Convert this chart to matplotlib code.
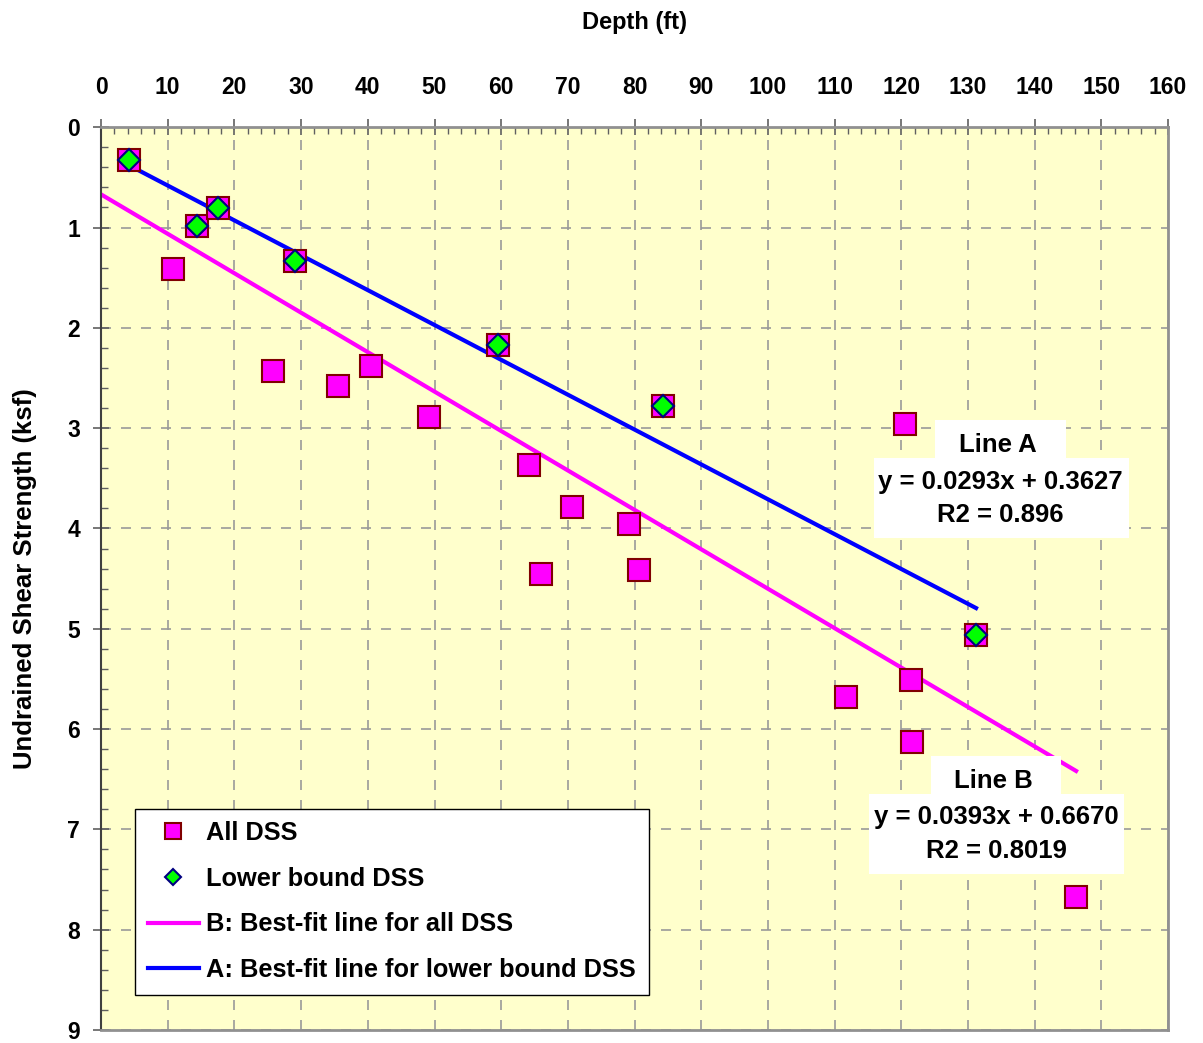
import numpy as np
import matplotlib.pyplot as plt
from matplotlib.patches import Rectangle
from matplotlib.ticker import MultipleLocator

plt.rcParams['font.family'] = ['Liberation Sans', 'DejaVu Sans']
plt.rcParams['font.weight'] = 'bold'

# all DSS tests: depth (ft) and undrained shear strength (ksf)
depth_all = [4.2, 14.4, 17.5, 10.8, 29.1, 25.8, 35.5, 40.5, 49.2, 59.5, 64.2,
             66.0, 70.6, 79.2, 80.7, 84.3, 120.5, 111.7, 121.4, 121.6, 131.2, 146.2]
su_all = [0.33, 0.98, 0.81, 1.41, 1.33, 2.43, 2.58, 2.38, 2.89, 2.17, 3.37,
          4.45, 3.79, 3.96, 4.41, 2.78, 2.96, 5.68, 5.51, 6.13, 5.06, 7.67]

# lower bound subset
depth_lb = [4.2, 14.4, 17.5, 29.1, 59.5, 84.3, 131.2]
su_lb = [0.33, 0.98, 0.81, 1.33, 2.17, 2.78, 5.06]

label_a = ["Line A", "y = 0.0293x + 0.3627", "R2 = 0.896"]
label_b = ["Line B", "y = 0.0393x + 0.6670", "R2 = 0.8019"]

fig = plt.figure(figsize=(12.03, 10.43), dpi=100)
ax = fig.add_axes([0.084, 0.0125, 0.887, 0.8655])
ax.set_facecolor('#FFFFCC')

# best-fit lines
slope_a, icpt_a = np.polyfit(depth_lb, su_lb, 1)
slope_b, icpt_b = np.polyfit(depth_all, su_all, 1)
xa = np.array([min(depth_lb), max(depth_lb)])
xb = np.array([0, max(depth_all)])

ax.plot(depth_all, su_all, 's', ms=16, mfc='#FF00FF', mec='#800000', mew=1.5,
        ls='none', label='All DSS', zorder=3)
ax.plot(depth_lb, su_lb, 'D', ms=11, mfc='#00FF00', mec='#000080', mew=1.5,
        ls='none', label='Lower bound DSS', zorder=4)
ax.plot(xb, slope_b * xb + icpt_b, color='#FF00FF', lw=3,
        label='B: Best-fit line for all DSS', zorder=2)
ax.plot(xa, slope_a * xa + icpt_a, color='#0000FF', lw=3,
        label='A: Best-fit line for lower bound DSS', zorder=2)

ax.set_xlim(0, 160)
ax.set_ylim(9, 0)
ax.xaxis.tick_top()
ax.xaxis.set_label_position('top')
ax.xaxis.set_major_locator(MultipleLocator(10))
ax.xaxis.set_minor_locator(MultipleLocator(2))
ax.yaxis.set_major_locator(MultipleLocator(1))
ax.yaxis.set_minor_locator(MultipleLocator(0.2))
ax.tick_params(which='major', direction='inout', length=12, width=1.2,
               color='#606060', labelsize=16.5)
ax.tick_params(axis='x', which='major', pad=14)
ax.tick_params(axis='y', which='major', pad=9)
ax.tick_params(which='minor', direction='in', length=5, width=1, color='#606060')
ax.grid(which='major', ls=(0, (6, 6)), color='#999999', lw=1.2)

for side in ['top', 'right', 'bottom']:
    ax.spines[side].set_color('#909090')
    ax.spines[side].set_linewidth(2)
ax.spines['left'].set_color('#404040')
ax.spines['left'].set_linewidth(1.5)

ax.set_xlabel('Depth (ft)', fontsize=17, fontweight='bold', labelpad=34)
ax.set_ylabel('Undrained Shear Strength (ksf)', fontsize=18.5, fontweight='bold',
              labelpad=22)


def fit_label(cx, top, lines):
    # white title box sitting on a wider box holding the equation and R2
    ax.add_patch(Rectangle((cx - 0.061, top - 0.042), 0.122, 0.042,
                           transform=ax.transAxes, fc='white', ec='none', zorder=5))
    ax.add_patch(Rectangle((cx - 0.119, top - 0.131), 0.239, 0.089,
                           transform=ax.transAxes, fc='white', ec='none', zorder=5))
    ax.text(cx - 0.003, top - 0.028, lines[0], transform=ax.transAxes,
            fontsize=18.5, fontweight='bold', ha='center', va='center', zorder=6)
    ax.text(cx, top - 0.068, lines[1], transform=ax.transAxes,
            fontsize=18.5, fontweight='bold', ha='center', va='center', zorder=6)
    ax.text(cx, top - 0.105, lines[2], transform=ax.transAxes,
            fontsize=18.5, fontweight='bold', ha='center', va='center', zorder=6)


fit_label(0.843, 0.6755, label_a)
fit_label(0.839, 0.3034, label_b)

leg = ax.legend(loc='lower left', bbox_to_anchor=(0.032, 0.039), fontsize=18.3,
                frameon=True, fancybox=False, edgecolor='black', framealpha=1,
                handlelength=2.0, labelspacing=0.85, borderpad=0.5,
                handletextpad=0.3, borderaxespad=0, markerscale=0.7)
leg.get_frame().set_linewidth(1)
for t in leg.get_texts():
    t.set_fontweight('bold')

fig.savefig('out.png', dpi=100)
